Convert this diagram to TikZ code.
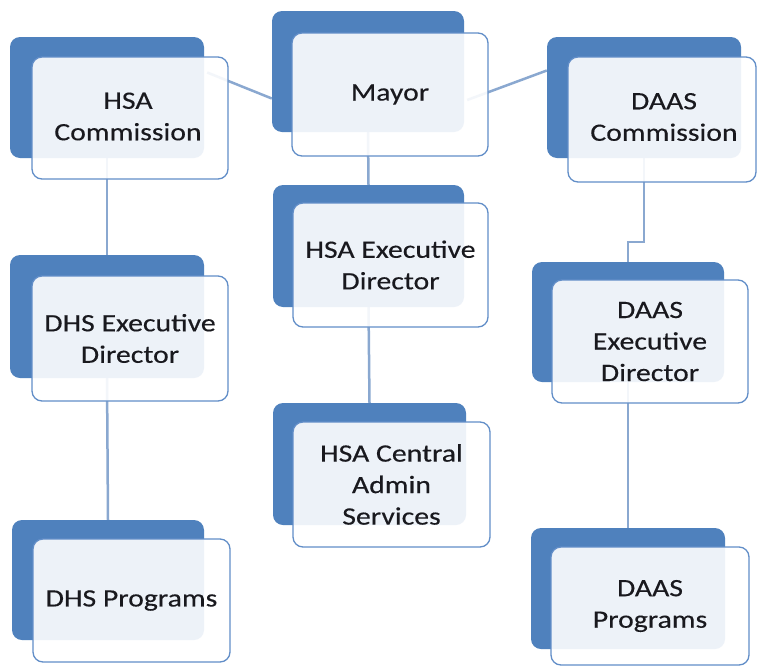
\documentclass[tikz,border=0pt]{standalone}
\usepackage{fontspec}
\setmainfont{Carlito}[FakeStretch=1.19,FakeBold=0.3]
\usetikzlibrary{calc}
\pgfdeclarelayer{background}
\pgfsetlayers{background,main}
\definecolor{backblue}{RGB}{79,129,189}
\definecolor{frontline}{RGB}{98,142,200}
\definecolor{linkblue}{RGB}{138,168,208}
\definecolor{inktext}{RGB}{25,25,30}
\tikzset{
  labeltext/.style={inner sep=0pt, align=center, text=inktext, font=\fontsize{25}{31.5}\selectfont},
  backbox/.style={draw=none, fill=backblue, rounded corners=10pt, inner sep=0pt},
  frontbox/.style={labeltext, draw=frontline, line width=1.3pt, fill=white, fill opacity=0.9, text opacity=1,
    rounded corners=10pt},
  link/.style={draw=linkblue, line width=2.5pt}
}
\begin{document}
\begin{tikzpicture}[x=1pt,y=-1pt]
\begin{pgfonlayer}{background}
\fill[white] (0,0) rectangle (758,667);
\end{pgfonlayer}
\useasboundingbox (0,0) rectangle (758,667);
% back boxes
\node[backbox, minimum width=194pt, minimum height=121pt] (hsacB) at (107,97.5) {};
\node[backbox, minimum width=192pt, minimum height=121pt] (mayorB) at (368,71.5) {};
\node[backbox, minimum width=194pt, minimum height=121pt] (daascB) at (644,97.5) {};
\node[backbox, minimum width=194pt, minimum height=123pt] (dhseB) at (107,316.5) {};
\node[backbox, minimum width=191pt, minimum height=122pt] (hsaeB) at (368.5,246) {};
\node[backbox, minimum width=193pt, minimum height=122pt] (hsacaB) at (369.5,464) {};
\node[backbox, minimum width=192pt, minimum height=120pt] (daaseB) at (628,322) {};
\node[backbox, minimum width=192pt, minimum height=120pt] (dhspB) at (108,580) {};
\node[backbox, minimum width=194pt, minimum height=121pt] (daaspB) at (628,588.5) {};
% connectors (behind back boxes)
\begin{pgfonlayer}{background}
\draw[link] ($(hsacB.east)+(3,-25)$) -- ($(mayorB.west)+(0,27)$);
\draw[link] ($(mayorB.east)+(3,28.5)$) -- ($(daascB.west)+(0,-27)$);
\draw[link] (hsacB.south) -- (dhseB.north);
\draw[link] (dhseB.south) -- (dhspB.north);
\draw[link] (mayorB.south) -- (hsaeB.north);
\draw[link] (hsaeB.south) -- (hsacaB.north);
\draw[link] (daascB.south) -- ++(0,84) -| (daaseB.north);
\draw[link] (daaseB.south) -- (daaspB.north);
\end{pgfonlayer}
% front boxes
\node[frontbox, minimum width=196pt, minimum height=122pt] (hsacF) at (130,118) {};
\node[labeltext] (hsacT) at (128,116.5) {HSA\\Commission};
\node[frontbox, minimum width=196pt, minimum height=123pt] (mayorF) at (390,94.5) {Mayor};
\node[frontbox, minimum width=188pt, minimum height=125pt] (daascF) at (662,119.5) {};
\node[labeltext] (daascT) at (664,117) {DAAS\\Commission};
\node[frontbox, minimum width=196pt, minimum height=125pt] (dhseF) at (130,338.5) {DHS Executive\\Director};
\node[frontbox, minimum width=195pt, minimum height=124pt] (hsaeF) at (390.5,265) {HSA Executive\\Director};
\node[frontbox, minimum width=197pt, minimum height=125pt] (hsacaF) at (391.5,484.5) {HSA Central\\Admin\\Services};
\node[frontbox, minimum width=196pt, minimum height=123pt] (daaseF) at (650,341.5) {DAAS\\Executive\\Director};
\node[frontbox, minimum width=197pt, minimum height=123pt] (dhspF) at (131.5,600.5) {DHS Programs};
\node[frontbox, minimum width=198pt, minimum height=118pt] (daaspF) at (650,606) {DAAS\\Programs};
\end{tikzpicture}
\end{document}
